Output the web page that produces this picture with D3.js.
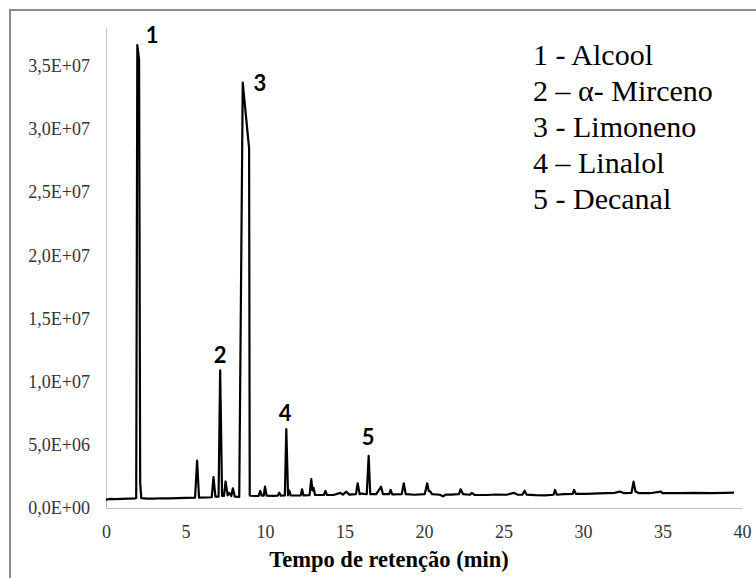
<!DOCTYPE html>
<html>
<head>
<meta charset="utf-8">
<script src="https://cdn.jsdelivr.net/npm/d3@7"></script>
<style>
  html, body { margin: 0; padding: 0; background: #fff; }
  svg { display: block; }
</style>
</head>
<body>
<script>
// ---- data ----
const retentionTime = [
  0.0, 0.3, 0.6, 1.0, 1.4, 1.85, 1.9, 1.97, 2.08, 2.15, 2.22, 2.6, 3.0, 3.5, 4.0, 4.5, 5.0,
  5.6, 5.73, 5.85, 6.3, 6.65, 6.76, 6.88, 7.08, 7.18, 7.3, 7.42, 7.52, 7.65, 7.75, 7.88, 7.98, 8.1,
  8.38, 8.6, 8.95, 9.0, 9.04, 9.1, 9.4, 9.6, 9.7, 9.8, 9.92, 10.0, 10.1, 10.5, 10.8, 10.9, 11.0,
  11.25, 11.34, 11.45, 11.52, 11.62, 11.9, 12.25, 12.33, 12.42, 12.8, 12.91, 12.98, 13.05, 13.15,
  13.7, 13.8, 13.9, 14.3, 14.74, 14.9, 15.12, 15.3, 15.72, 15.83, 15.95, 16.1, 16.2, 16.4, 16.52,
  16.62, 17.0, 17.3, 17.42, 17.8, 17.9, 18.0, 18.6, 18.73, 18.85, 19.4, 20.05, 20.2, 20.3, 20.4,
  20.5, 21.0, 21.2, 21.35, 21.7, 22.2, 22.3, 22.45, 22.9, 23.0, 23.2, 24.0, 24.5, 25.2, 25.65,
  25.9, 26.2, 26.33, 26.45, 27.0, 27.6, 28.15, 28.24, 28.35, 28.8, 29.35, 29.44, 29.55, 30.2,
  31.0, 32.0, 32.3, 32.6, 33.05, 33.18, 33.3, 33.5, 34.2, 34.9, 35.0, 36.0, 37.0, 38.0, 39.0, 39.5
];
const intensity = [
  0.66e6, 0.72e6, 0.70e6, 0.73e6, 0.74e6, 0.76e6, 0.80e6, 36.65e6, 35.5e6, 2.0e6, 0.78e6, 0.74e6, 0.75e6, 0.77e6, 0.76e6, 0.78e6, 0.80e6,
  0.81e6, 3.75e6, 0.82e6, 0.83e6, 0.85e6, 2.45e6, 0.90e6, 0.90e6, 10.9e6, 0.95e6, 0.95e6, 2.1e6, 1.0e6, 1.2e6, 0.95e6, 1.56e6, 0.90e6,
  0.88e6, 33.67e6, 29.1e6, 28.5e6, 1.0e6, 0.97e6, 0.95e6, 0.96e6, 1.35e6, 0.97e6, 0.98e6, 1.69e6, 0.98e6, 0.96e6, 0.98e6, 1.21e6, 0.98e6,
  1.0e6, 6.25e6, 1.0e6, 1.4e6, 1.0e6, 0.99e6, 1.0e6, 1.48e6, 1.0e6, 1.02e6, 2.28e6, 1.4e6, 1.6e6, 1.03e6,
  1.03e6, 1.35e6, 1.03e6, 1.03e6, 1.2e6, 1.06e6, 1.29e6, 1.06e6, 1.1e6, 1.96e6, 1.1e6, 1.15e6, 1.12e6, 1.1e6, 4.13e6,
  1.1e6, 1.1e6, 1.69e6, 1.1e6, 1.1e6, 1.43e6, 1.08e6, 1.1e6, 1.96e6, 1.1e6, 1.05e6, 1.1e6, 1.96e6, 1.35e6, 1.3e6,
  1.1e6, 1.05e6, 0.92e6, 1.06e6, 1.06e6, 1.1e6, 1.48e6, 1.1e6, 1.05e6, 1.2e6, 1.03e6, 1.03e6, 1.07e6, 1.05e6, 1.2e6,
  1.05e6, 1.06e6, 1.37e6, 1.06e6, 1.02e6, 1.0e6, 1.05e6, 1.43e6, 1.05e6, 1.1e6, 1.12e6, 1.43e6, 1.12e6, 1.12e6,
  1.15e6, 1.2e6, 1.3e6, 1.17e6, 1.2e6, 2.09e6, 1.3e6, 1.18e6, 1.17e6, 1.3e6, 1.17e6, 1.18e6, 1.2e6, 1.18e6, 1.2e6, 1.21e6
];
const peakNumbers = ["1", "2", "3", "4", "5"];
const peakTimes = [2.9, 7.18, 9.68, 11.27, 16.48];
const peakLabelValues = [36.8e6, 11.45e6, 33.0e6, 6.85e6, 4.95e6];
const legendItems = ["1 - Alcool", "2 \u2013 \u03b1- Mirceno", "3 - Limoneno", "4 \u2013 Linalol", "5 - Decanal"];
const xTicks = [0, 5, 10, 15, 20, 25, 30, 35, 40];
const yTicks = [0, 5e6, 10e6, 15e6, 20e6, 25e6, 30e6, 35e6];
const yTickLabels = ["0,0E+00", "5,0E+06", "1,0E+07", "1,5E+07", "2,0E+07", "2,5E+07", "3,0E+07", "3,5E+07"];
const xTitle = "Tempo de retenção (min)";

// ---- drawing ----
const SERIF = '"Liberation Serif", "Times New Roman", Times, serif';
const W = 756, H = 578;
const svg = d3.select("body").append("svg").attr("width", W).attr("height", H);
svg.append("rect").attr("width", W).attr("height", H).attr("fill", "#fff");

// chart border (right/bottom edges fall outside the picture)
svg.append("rect")
  .attr("x", 10).attr("y", 10).attr("width", 760).attr("height", 580)
  .attr("fill", "none").attr("stroke", "#8c8c8c").attr("stroke-width", 2);

const x = d3.scaleLinear().domain([0, 40]).range([106, 742]);
const y = d3.scaleLinear().domain([0, 3.8e7]).range([508, 28]);

// axes
const xAxis = d3.axisBottom(x).tickValues(xTicks).tickSize(0).tickPadding(0).tickFormat(d => d);
const gx = svg.append("g").attr("transform", `translate(0,${y(0)})`).call(xAxis);
gx.select(".domain").attr("stroke", "#c0c0c0").attr("stroke-width", 1);
gx.selectAll("text")
  .attr("y", 30).attr("dy", null)
  .style("font-family", SERIF)
  .style("font-size", "18px").attr("fill", "#333");

const yAxis = d3.axisLeft(y).tickValues(yTicks).tickSize(0).tickPadding(16)
  .tickFormat((d, i) => yTickLabels[i]);
const gy = svg.append("g").attr("transform", `translate(${x(0)},0)`).call(yAxis);
gy.select(".domain").attr("stroke", "#c0c0c0").attr("stroke-width", 1);
gy.selectAll("text")
  .style("font-family", SERIF)
  .style("font-size", "18px").attr("fill", "#333");

// chromatogram line
const pts = retentionTime.map((t, i) => [t, intensity[i]]);
const line = d3.line().x(d => x(d[0])).y(d => y(d[1]));
svg.append("path").datum(pts)
  .attr("d", line)
  .attr("fill", "none").attr("stroke", "#000").attr("stroke-width", 2.2)
  .attr("stroke-linejoin", "round");

// peak numbers
svg.append("g").selectAll("text").data(peakNumbers).join("text")
  .attr("x", (d, i) => x(peakTimes[i]))
  .attr("y", (d, i) => y(peakLabelValues[i]))
  .attr("text-anchor", "middle")
  .style("font-family", "Lato, 'Open Sans', sans-serif")
  .style("font-weight", 700).style("font-size", "22px").attr("fill", "#000")
  .text(d => d);

// legend
svg.append("g").selectAll("text").data(legendItems).join("text")
  .attr("x", 533)
  .attr("y", (d, i) => 64.5 + i * 36.2)
  .style("font-family", SERIF)
  .style("font-size", "30px").attr("fill", "#000")
  .text(d => d);

// x-axis title
svg.append("text")
  .attr("x", 389).attr("y", 567)
  .attr("text-anchor", "middle")
  .style("font-family", SERIF)
  .style("font-weight", 700).style("font-size", "22.5px").attr("fill", "#000")
  .text(xTitle);
</script>
</body>
</html>
